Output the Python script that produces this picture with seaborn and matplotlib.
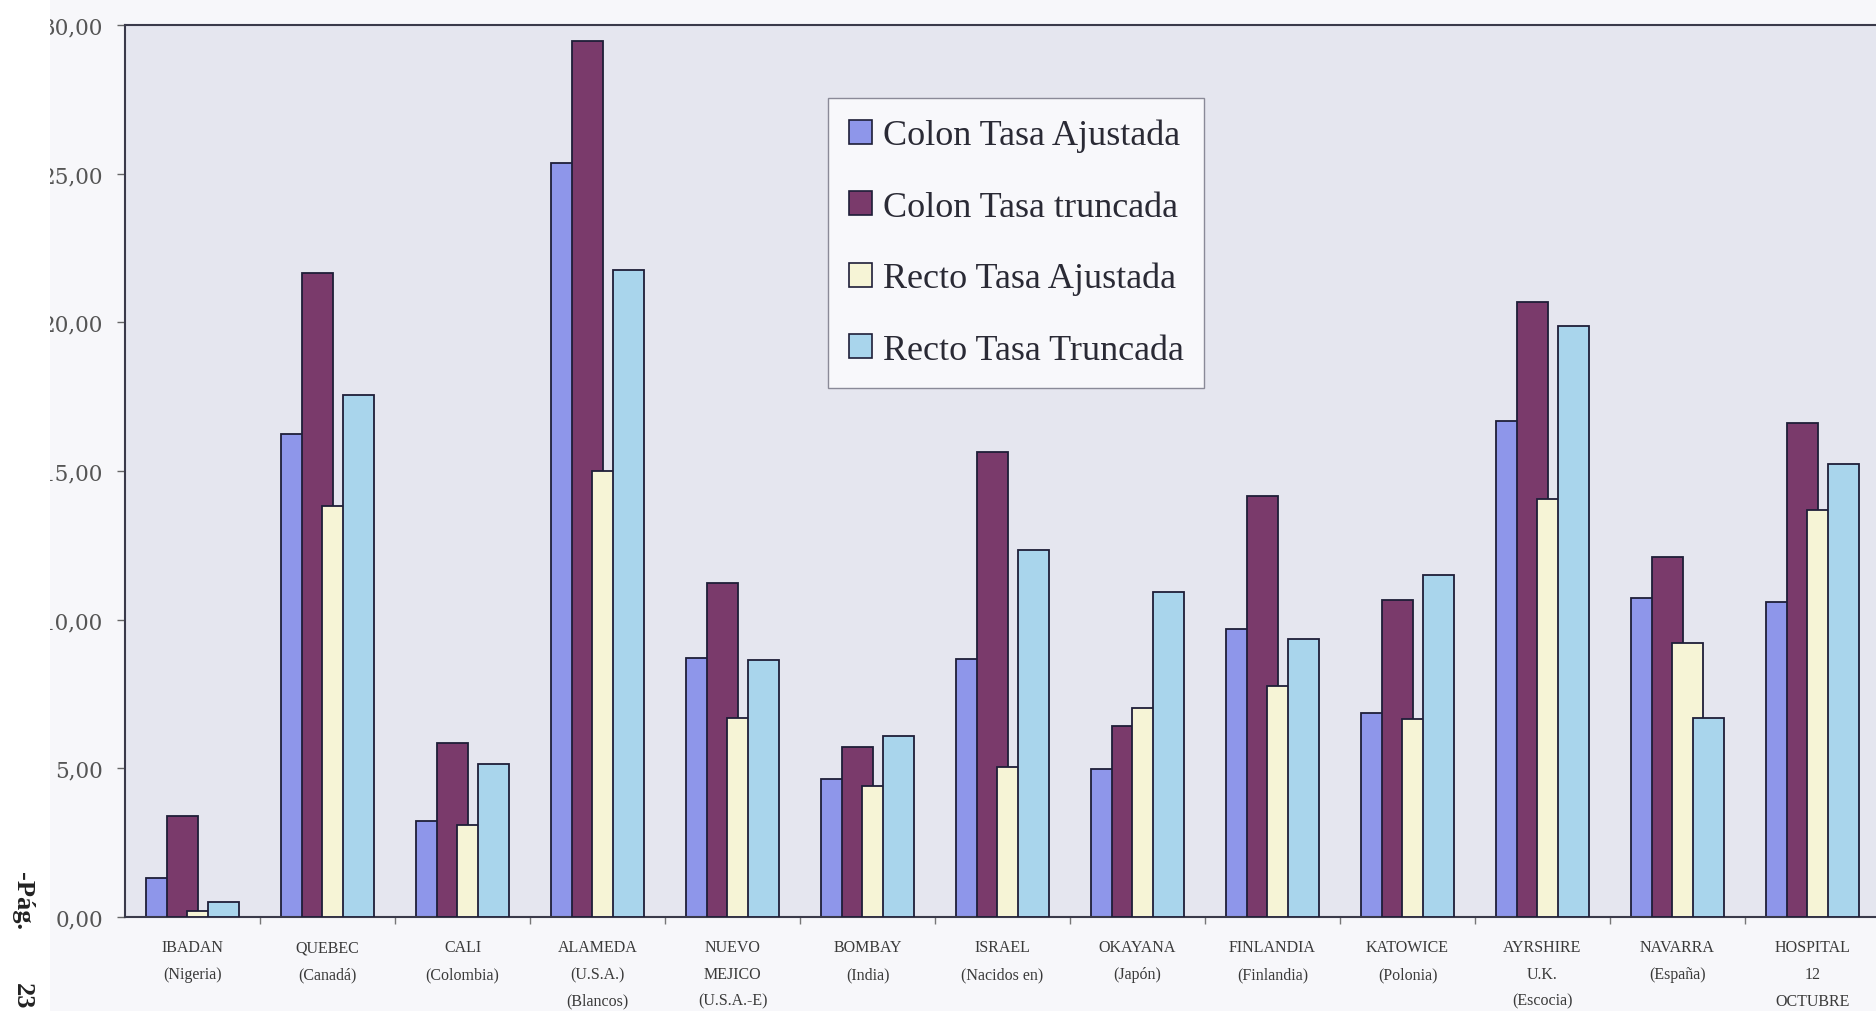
import numpy as np
import pandas as pd
import matplotlib
matplotlib.use("Agg")
import matplotlib.pyplot as plt
from matplotlib.patches import Rectangle, Patch
from matplotlib.ticker import FixedLocator, FuncFormatter
import seaborn as sns

# Registries and their incidence rates
categories = [
    "IBADAN\n(Nigeria)", "QUEBEC\n(Canadá)", "CALI\n(Colombia)",
    "ALAMEDA\n(U.S.A.)\n(Blancos)", "NUEVO\nMEJICO\n(U.S.A.-E)", "BOMBAY\n(India)",
    "ISRAEL\n(Nacidos en)", "OKAYANA\n(Japón)", "FINLANDIA\n(Finlandia)",
    "KATOWICE\n(Polonia)", "AYRSHIRE\nU.K.\n(Escocia)", "NAVARRA\n(España)",
    "HOSPITAL\n12\nOCTUBRE",
]
colon_ajustada = [1.31, 16.25, 3.22, 25.36, 8.71, 4.64, 8.69, 4.99, 9.67, 6.87, 16.67, 10.72, 10.60]
colon_truncada = [3.41, 21.66, 5.85, 29.45, 11.23, 5.73, 15.64, 6.43, 14.15, 10.66, 20.68, 12.12, 16.60]
recto_ajustada = [0.19, 13.82, 3.11, 15.01, 6.69, 4.42, 5.06, 7.03, 7.76, 6.66, 14.06, 9.20, 13.68]
recto_truncada = [0.51, 17.54, 5.13, 21.76, 8.64, 6.10, 12.33, 10.93, 9.34, 11.49, 19.86, 6.70, 15.22]

series_names = ["Colon Tasa Ajustada", "Colon Tasa truncada",
                "Recto Tasa Ajustada", "Recto Tasa Truncada"]
series_values = [colon_ajustada, colon_truncada, recto_ajustada, recto_truncada]
series_colors = ["#8E96EA", "#7A3A6B", "#F6F4D6", "#A9D5EC"]
y_ticks = [0, 5, 10, 15, 20, 25, 30]

sns.set_theme(style="white")
plt.rcParams["font.family"] = ["Liberation Serif", "DejaVu Serif"]

W, H = 1876, 1012
fig = plt.figure(figsize=(W / 100, H / 100), dpi=100, facecolor="#F7F7FA")
ax = fig.add_axes([125 / W, 1 - 918 / H, (1880 - 125) / W, (918 - 26) / H])
ax.set_facecolor("#E5E6EF")

# Overlapping clustered bars: each series shifted within its category slot
step = 0.151
bar_w = 0.23
edge = "#1E1E38"
base = np.arange(len(categories))
for k, (name, vals, color) in enumerate(zip(series_names, series_values, series_colors)):
    df = pd.DataFrame({"pos": base + (k - 1.5) * step, "valor": vals})
    sns.barplot(data=df, x="pos", y="valor", native_scale=True, width=bar_w,
                color=color, saturation=1, edgecolor=edge, linewidth=1.3,
                errorbar=None, ax=ax, zorder=2 + k)

ax.set_xlim(-0.5, len(categories) - 0.5)
ax.set_ylim(0, 30)
ax.set_xlabel("")
ax.set_ylabel("")
ax.grid(False)

# Category labels centred, small ticks at category boundaries
ax.xaxis.set_major_locator(FixedLocator(base))
ax.set_xticklabels(categories, fontsize=11.5, color="#3A3A3A", linespacing=1.9)
ax.xaxis.set_minor_locator(FixedLocator(base[:-1] + 0.5))
ax.tick_params(axis="x", which="major", length=0, pad=16)
ax.tick_params(axis="x", which="minor", length=5, width=1, color="#777777",
               direction="out", bottom=True)

ax.yaxis.set_major_locator(FixedLocator(y_ticks))
ax.yaxis.set_major_formatter(FuncFormatter(lambda v, p: f"{v:.2f}".replace(".", ",")))
ax.tick_params(axis="y", length=6, width=1, color="#666666", direction="out",
               pad=10, labelsize=15.5, labelcolor="#555555", left=True)
for lab in ax.get_yticklabels():
    lab.set_fontfamily("DejaVu Serif")

for side in ["left", "bottom", "top", "right"]:
    ax.spines[side].set_visible(True)
    ax.spines[side].set_color("#3A3A4A")
    ax.spines[side].set_linewidth(1.5)

handles = [Patch(facecolor=c, edgecolor=edge, linewidth=1.2) for c in series_colors]
leg = ax.legend(handles, series_names, loc="upper left",
                bbox_to_anchor=(828 / W, 1 - 99 / H), bbox_transform=fig.transFigure,
                fontsize=26, frameon=True, fancybox=False, borderaxespad=0,
                borderpad=0.58, labelspacing=1.06, handlelength=0.65,
                handleheight=0.65, handletextpad=0.28)
leg.get_frame().set_facecolor("#F8F8FB")
leg.get_frame().set_edgecolor("#8A8A98")
leg.get_frame().set_linewidth(1.0)
leg.get_frame().set_alpha(1)
for t in leg.get_texts():
    t.set_color("#2A2A35")

# Page margin strip with the page number
fig.patches.append(Rectangle((0, 0), 50 / W, 1, transform=fig.transFigure,
                             facecolor="white", edgecolor="none", zorder=10))
fig.text(22 / W, 1 - 872 / H, "-Pág.", rotation=270, ha="center", va="top",
         fontsize=19, fontweight="bold", color="#222222", zorder=11)
fig.text(22 / W, 1 - 983 / H, "23", rotation=270, ha="center", va="top",
         fontsize=19, fontweight="bold", color="#222222", zorder=11)

fig.savefig("out.png", dpi=100, facecolor=fig.get_facecolor())
